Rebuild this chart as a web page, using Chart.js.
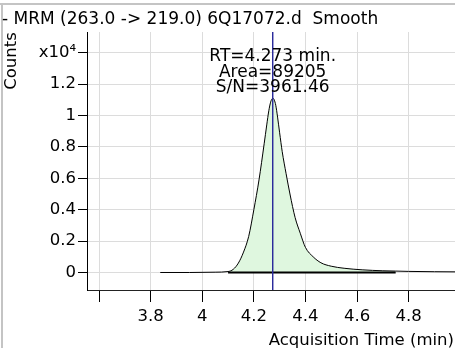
<!DOCTYPE html>
<html lang="en"><head><meta charset="utf-8"><title>MRM 263.0 -> 219.0</title>
<script src="https://cdn.jsdelivr.net/npm/chart.js@4/dist/chart.umd.min.js"></script>
<style>
  html, body { margin: 0; padding: 0; background: #ffffff; }
  #wrap { position: relative; width: 455px; height: 353px; }
</style>
</head>
<body>
<div id="wrap"><canvas id="c" width="455" height="353"></canvas></div>
<script>
// Smoothed MRM trace, counts in units of 1e4.
const TIMES  = [3.837, 3.95, 4.05, 4.10, 4.12, 4.14, 4.16, 4.18, 4.20, 4.22, 4.24, 4.25, 4.258, 4.265,
                4.27, 4.274, 4.279, 4.285, 4.292, 4.30, 4.31, 4.325, 4.34, 4.36, 4.38, 4.40, 4.43, 4.46,
                4.50, 4.55, 4.62, 4.70, 4.75, 4.80, 4.90, 4.99];
const COUNTS = [0, 0, 0.002, 0.006, 0.02, 0.06, 0.13, 0.23, 0.40, 0.59, 0.82, 0.94, 1.03, 1.085,
                1.105, 1.110, 1.10, 1.065, 0.99, 0.89, 0.77, 0.63, 0.50, 0.35, 0.25, 0.16, 0.10, 0.062,
                0.040, 0.027, 0.017, 0.011, 0.009, 0.007, 0.005, 0.004];

const RT = 4.273;
const BASELINE_FROM = 4.10, BASELINE_TO = 4.75;
const PEAK_LABELS = ['RT=4.273 min.', 'Area=89205', 'S/N=3961.46'];

const X_TICKS  = [3.6, 3.8, 4, 4.2, 4.4, 4.6, 4.8];
const X_LABELS = ['', '3.8', '4', '4.2', '4.4', '4.6', '4.8'];
const Y_TICKS  = [0, 0.2, 0.4, 0.6, 0.8, 1, 1.2, 1.4];
const Y_LABELS = ['0', '0.2', '0.4', '0.6', '0.8', '1', '1.2', 'x10\u2074'];

const TITLE = '- MRM (263.0 -> 219.0) 6Q17072.d  Smooth';
const Y_TITLE = 'Counts';
const X_TITLE = 'Acquisition Time (min)';

const X_MIN = 3.553, X_MAX = 4.98;
const Y_MIN = -0.1115, Y_MAX = 1.532;

const FONT = '"DejaVu Sans", Verdana, sans-serif';
const GRID = '#dcdcdc';

const trace = TIMES.map((t, i) => ({ x: t, y: COUNTS[i] }));
const integrated = trace.filter(p => p.x >= BASELINE_FROM && p.x <= BASELINE_TO);

const decor = {
  id: 'decor',
  beforeDraw(chart) {
    const { ctx } = chart;
    ctx.save();
    ctx.fillStyle = '#ffffff';
    ctx.fillRect(0, 0, chart.width, chart.height);
    // panel frame (only its top and left edge are in view)
    ctx.fillStyle = '#c4c4c4';
    ctx.fillRect(0, 3, chart.width, 2);
    ctx.fillRect(1, 3, 2, 345);
    ctx.restore();
  },
  afterDraw(chart) {
    const { ctx } = chart;
    const xs = chart.scales.x;
    ctx.save();
    ctx.fillStyle = '#000000';
    ctx.textBaseline = 'middle';

    ctx.font = `17px ${FONT}`;
    ctx.textAlign = 'left';
    ctx.fillText(TITLE, 2, 20);

    ctx.font = `16.5px ${FONT}`;
    ctx.textAlign = 'right';
    ctx.fillText(X_TITLE, 454, 341);

    ctx.save();
    ctx.translate(12, 61);
    ctx.rotate(-Math.PI / 2);
    ctx.textAlign = 'center';
    ctx.fillText(Y_TITLE, 0, 0);
    ctx.restore();

    ctx.font = `17px ${FONT}`;
    ctx.textAlign = 'center';
    const cx = xs.getPixelForValue(RT);
    PEAK_LABELS.forEach((s, i) => ctx.fillText(s, cx, 57 + i * 15.5));
    ctx.restore();
  },
};

new Chart(document.getElementById('c'), {
  type: 'line',
  data: {
    datasets: [
      {
        label: 'RT',
        data: [{ x: RT, y: Y_MAX }, { x: RT, y: Y_MIN }],
        borderColor: '#2b2b9b', borderWidth: 1, pointRadius: 0, fill: false, order: 0,
      },
      {
        label: 'Baseline',
        data: [{ x: BASELINE_FROM, y: 0 }, { x: BASELINE_TO, y: 0 }],
        borderColor: '#000000', borderWidth: 1.8, pointRadius: 0, fill: false, order: 1,
      },
      {
        label: 'Trace',
        data: trace,
        borderColor: '#000000', borderWidth: 1, pointRadius: 0, fill: false,
        cubicInterpolationMode: 'monotone', order: 2,
      },
      {
        label: 'Area',
        data: integrated,
        borderWidth: 0, borderColor: 'rgba(0,0,0,0)', backgroundColor: '#dff7df', pointRadius: 0,
        fill: 'origin', cubicInterpolationMode: 'monotone', order: 3,
      },
    ],
  },
  options: {
    responsive: false, maintainAspectRatio: false, animation: false, devicePixelRatio: 1,
    layout: { padding: { top: 32, left: 0, right: 0, bottom: 0 } },
    plugins: { legend: { display: false }, tooltip: { enabled: false }, title: { display: false } },
    scales: {
      x: {
        type: 'linear', min: X_MIN, max: X_MAX,
        afterBuildTicks: s => { s.ticks = X_TICKS.map(v => ({ value: v })); },
        afterFit: s => { s.height = 63; },
        grid: { color: GRID, tickColor: '#000000', tickLength: 12, lineWidth: 1 },
        border: { color: '#222222', width: 1 },
        ticks: {
          color: '#000000', padding: 5, maxRotation: 0, autoSkip: false,
          font: { family: FONT, size: 16.5 },
          callback: (v, i) => X_LABELS[i],
        },
      },
      y: {
        type: 'linear', min: Y_MIN, max: Y_MAX,
        afterBuildTicks: s => { s.ticks = Y_TICKS.map(v => ({ value: v })); },
        afterFit: s => { s.width = 87; },
        grid: { color: GRID, tickColor: '#000000', tickLength: 9, lineWidth: 1 },
        border: { color: '#000000', width: 1 },
        ticks: {
          color: '#000000', padding: 2, autoSkip: false,
          font: { family: FONT, size: 16.5 },
          callback: (v, i) => Y_LABELS[i],
        },
      },
    },
  },
  plugins: [decor],
});
</script>
</body></html>
